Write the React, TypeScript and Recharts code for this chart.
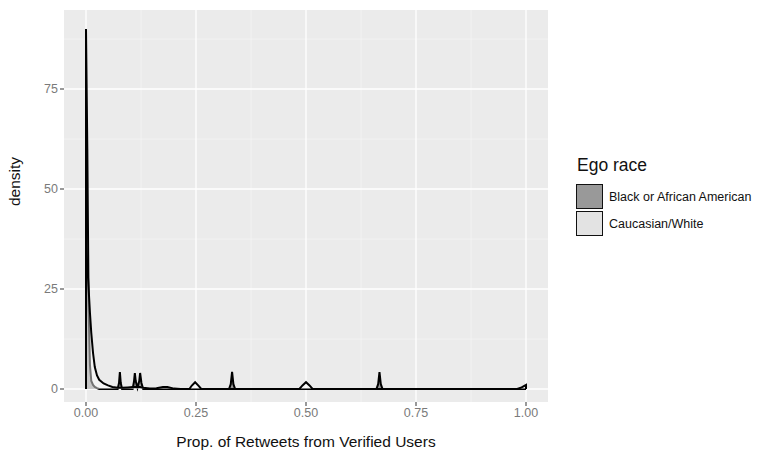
import React from 'react';
import { Area, CartesianGrid, ComposedChart, XAxis, YAxis } from 'recharts';

// density curves, one row per x position
const xs = [
  0, 0, 0.003, 0.006, 0.009, 0.012, 0.016, 0.02, 0.025, 0.03, 0.04, 0.05, 0.06, 0.072, 0.075, 0.077, 0.079, 0.082,
  0.095, 0.106, 0.109, 0.111, 0.113, 0.117, 0.121, 0.123, 0.126, 0.13, 0.145, 0.16, 0.175, 0.185, 0.2, 0.215,
  0.235, 0.24, 0.248, 0.256, 0.262, 0.325, 0.329, 0.332, 0.335, 0.339, 0.485, 0.492, 0.5, 0.508, 0.515, 0.66,
  0.664, 0.667, 0.67, 0.674, 0.98, 0.99, 1, 1,
];
const blackDensity = [
  0, 90, 60, 20, 6, 2, 1, 0.5, 0.2, 0, 0, 0, 0, 0, 1.5, 4.2, 1.5, 0,
  0, 0, 1.8, 4.0, 2.0, 0.3, 2.0, 4.0, 1.5, 0, 0, 0, 0, 0, 0, 0,
  0, 0, 0, 0, 0, 0, 1.2, 4.3, 1.2, 0, 0, 0, 0, 0, 0, 0,
  1.2, 4.2, 1.2, 0, 0, 0, 0, 0,
];
const whiteDensity = [
  0, 36, 31, 25, 19, 14, 9, 5.5, 3.4, 2.3, 1.4, 0.9, 0.5, 0.3, 0.3, 0.3, 0.3, 0.3,
  0.4, 0.5, 0.5, 0.5, 0.5, 0.5, 0.5, 0.5, 0.4, 0.3, 0.1, 0.2, 0.5, 0.5, 0.1, 0,
  0, 0.8, 1.7, 0.8, 0, 0, 0, 0, 0, 0, 0, 0.9, 1.7, 0.9, 0, 0,
  0, 0, 0, 0, 0, 0.4, 1.0, 0,
];

const xTicks = [0, 0.25, 0.5, 0.75, 1];
const xMinor = [0.125, 0.375, 0.625, 0.875];
const yTicks = [0, 25, 50, 75];
const yMinor = [12.5, 37.5, 62.5, 87.5];

const seriesNames = ['Black or African American', 'Caucasian/White'];
const legendFills = ['#999999', '#e3e3e3'];

const data = xs.map((x, i) => ({ x, black: blackDensity[i], white: whiteDensity[i] }));

const font = '"Liberation Sans", Arial, sans-serif';

export default function App() {
  return (
    <div style={{ position: 'relative', width: 780, height: 450, fontFamily: font, background: '#fff' }}>
      <style>{'body { margin: 0; }'}</style>
      <ComposedChart width={780} height={450} data={data} margin={{ top: 10, right: 232, bottom: 0, left: 0 }}>
        <CartesianGrid
          fill="#ebebeb"
          stroke="#f6f6f6"
          strokeWidth={0.6}
          horizontalValues={yMinor}
          verticalValues={xMinor}
        />
        <CartesianGrid stroke="#ffffff" strokeWidth={1.3} horizontalValues={yTicks} verticalValues={xTicks} />
        <XAxis
          dataKey="x"
          type="number"
          domain={[-0.05, 1.05]}
          ticks={xTicks}
          allowDataOverflow
          tickFormatter={(v: number) => v.toFixed(2)}
          axisLine={false}
          tickSize={4}
          tickLine={{ stroke: '#555', strokeWidth: 1.2 }}
          tick={{ fill: '#7a7a7a', fontSize: 12.5, fontFamily: font }}
          height={48}
          label={{ value: 'Prop. of Retweets from Verified Users', position: 'insideBottom', offset: 3, fill: '#111', fontSize: 15.5, fontFamily: font }}
        />
        <YAxis
          type="number"
          domain={[-3.25, 94.75]}
          ticks={yTicks}
          allowDataOverflow
          axisLine={false}
          tickSize={4}
          tickLine={{ stroke: '#555', strokeWidth: 1.2 }}
          tick={{ fill: '#7a7a7a', fontSize: 12.5, fontFamily: font }}
          width={64}
          label={{ value: 'density', angle: -90, position: 'insideLeft', offset: 14, fill: '#111', fontSize: 15.5, fontFamily: font }}
        />
        <Area
          type="linear"
          dataKey="black"
          stroke="#000"
          strokeWidth={2}
          fill="#333333"
          fillOpacity={0.45}
          baseValue={0}
          isAnimationActive={false}
        />
        <Area
          type="linear"
          dataKey="white"
          stroke="#000"
          strokeWidth={2}
          fill="#ffffff"
          fillOpacity={0.45}
          baseValue={0}
          isAnimationActive={false}
        />
      </ComposedChart>
      <div style={{ position: 'absolute', left: 577, top: 155, fontSize: 17.5, color: '#111' }}>Ego race</div>
      {seriesNames.map((name, i) => (
        <div key={name} style={{ position: 'absolute', left: 576, top: 184 + i * 27, display: 'flex', alignItems: 'center' }}>
          <div style={{ width: 25, height: 23, background: legendFills[i], border: '1.5px solid #111' }} />
          <span style={{ marginLeft: 6, fontSize: 12.5, color: '#111' }}>{name}</span>
        </div>
      ))}
    </div>
  );
}
